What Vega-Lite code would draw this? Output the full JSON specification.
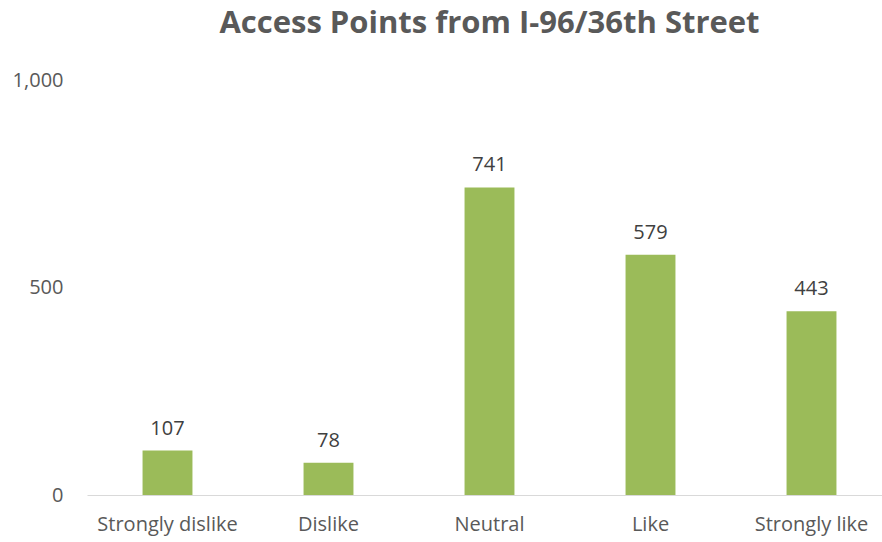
{
  "$schema": "https://vega.github.io/schema/vega-lite/v6.json",
  "autosize": "none",
  "width": 805,
  "height": 415,
  "padding": {"left": 87, "top": 80, "right": 0, "bottom": 47},
  "background": "white",
  "config": {"view": {"stroke": null}},
  "title": {
    "text": "Access Points from I-96/36th Street",
    "fontSize": 31,
    "font": "Open Sans",
    "fontWeight": "bold",
    "color": "#595959",
    "anchor": "middle",
    "offset": 30
  },
  "data": {
    "values": [
      {"response": "Strongly dislike", "count": 107},
      {"response": "Dislike", "count": 78},
      {"response": "Neutral", "count": 741},
      {"response": "Like", "count": 579},
      {"response": "Strongly like", "count": 443}
    ]
  },
  "encoding": {
    "x": {
      "field": "response",
      "type": "nominal",
      "sort": null,
      "scale": {"paddingInner": 0.69, "paddingOuter": 0.345},
      "axis": {
        "title": null,
        "labelAngle": 0,
        "labelFont": "Open Sans",
        "labelFontSize": 20,
        "labelColor": "#595959",
        "labelPadding": 19,
        "ticks": false,
        "domainColor": "#d9d9d9",
        "domainWidth": 1
      }
    },
    "y": {
      "field": "count",
      "type": "quantitative",
      "scale": {"domain": [0, 1000]},
      "axis": {
        "title": null,
        "values": [0, 500, 1000],
        "format": ",.0f",
        "grid": false,
        "domain": false,
        "ticks": false,
        "labelFont": "Open Sans",
        "labelFontSize": 20,
        "labelColor": "#595959",
        "labelPadding": 24
      }
    }
  },
  "layer": [
    {"mark": {"type": "bar", "color": "#9BBB59"}},
    {
      "mark": {
        "type": "text",
        "baseline": "bottom",
        "dy": -12,
        "font": "Open Sans",
        "fontSize": 20,
        "color": "#404040"
      },
      "encoding": {"text": {"field": "count", "type": "quantitative"}}
    }
  ]
}
